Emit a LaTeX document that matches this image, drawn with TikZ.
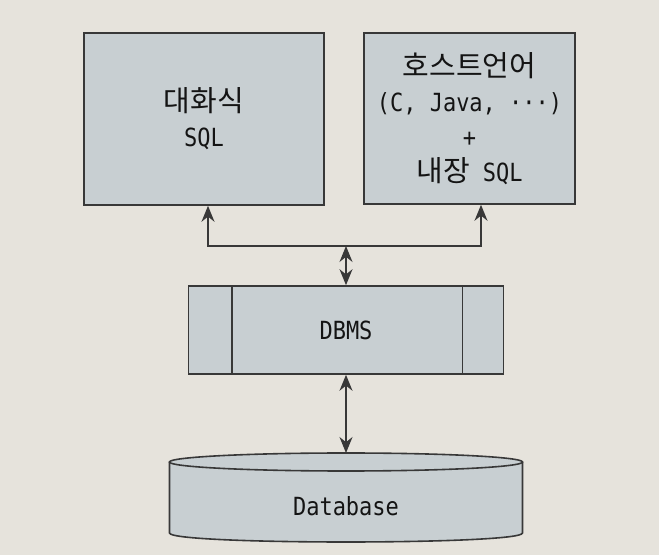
\documentclass[tikz,border=0pt]{standalone}
\usepackage{fontspec}
\setmainfont[FakeStretch=0.88]{DejaVu Sans Mono}
\newfontfamily\kr{Noto Sans CJK KR}
\usetikzlibrary{arrows.meta}

\definecolor{paper}{HTML}{E6E3DC}
\definecolor{boxfill}{HTML}{C8CFD2}
\definecolor{ink}{HTML}{383838}
\newcommand{\kor}[1]{{\kr\fontsize{14.5}{17.5}\selectfont #1}}

\begin{document}
\begin{tikzpicture}[x=0.5pt, y=-0.5pt,
    block/.style={rectangle, draw=ink, fill=boxfill, line width=0.8pt, align=center,
        font=\fontsize{12.5}{17.5}\selectfont, text=black!92},
    arr/.style={draw=ink, line width=0.8pt, -{Stealth[length=8pt,width=6.5pt]}},
    darr/.style={draw=ink, line width=0.8pt,
        {Stealth[length=8pt,width=6.5pt]}-{Stealth[length=8pt,width=6.5pt]}}]
    \fill[paper] (0,0) rectangle (659,555);

    \node (interactive) [block, minimum width=120pt, minimum height=86pt] at (204,119)
        {\kor{대화식}\\SQL};
    \node (host) [block, minimum width=105.5pt, minimum height=85.5pt] at (469.5,118.5)
        {\kor{호스트언어}\\(C, Java, ···)\\+\\\kor{내장} SQL};
    \node (dbms) [block, minimum width=157.5pt, minimum height=44pt] at (346,330) {DBMS};
    \draw[ink, line width=0.8pt] ([xshift=22pt]dbms.north west) -- ([xshift=22pt]dbms.south west);
    \draw[ink, line width=0.8pt] ([xshift=-21pt]dbms.north east) -- ([xshift=-21pt]dbms.south east);

    % database cylinder
    \filldraw[draw=ink, fill=boxfill, line width=0.8pt]
        (169.5,462) -- (169.5,533) .. controls (169.5,545) and (522.5,545) .. (522.5,533) -- (522.5,462);
    \filldraw[draw=ink, fill=boxfill, line width=0.8pt]
        (346,462) ellipse [x radius=88.25pt, y radius=4.5pt];
    \node (db) at (346,506) [font=\fontsize{12.5}{14}\selectfont, text=black!92] {Database};
    \coordinate (dbtop) at (346,453);

    \coordinate (hub) at (346,246);
    \draw[arr] (hub) -| ([xshift=2pt]interactive.south);
    \draw[arr] (hub) -| ([xshift=5.75pt]host.south);
    \draw[darr] (hub) -- (dbms.north);
    \draw[darr] (dbms.south) -- (dbtop);
\end{tikzpicture}
\end{document}
